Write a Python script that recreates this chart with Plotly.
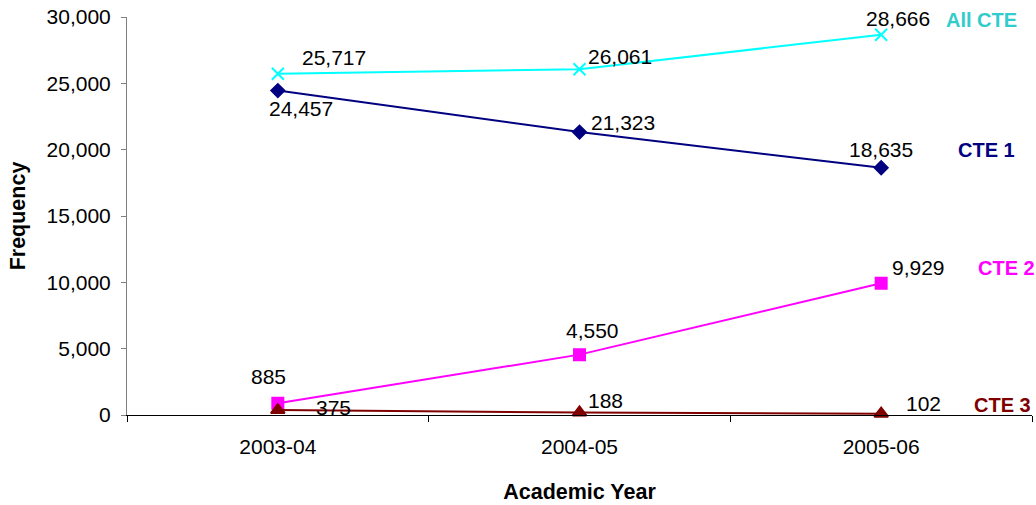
import plotly.graph_objects as go

years = ["2003-04", "2004-05", "2005-06"]
all_cte = [25717, 26061, 28666]
cte1 = [24457, 21323, 18635]
cte2 = [885, 4550, 9929]
cte3 = [375, 188, 102]

series = [
    # name, values, line colour, name colour, marker symbol, marker size
    ("All CTE", all_cte, "#00FFFF", "#33CCCC", "x-thin", 12),
    ("CTE 1", cte1, "#000080", "#000080", "diamond", 10),
    ("CTE 2", cte2, "#FF00FF", "#FF00FF", "square", 11),
    ("CTE 3", cte3, "#800000", "#800000", "triangle-up", 12),
]

# pixel offsets (dx, dy up) of each value label from its point
label_offsets = {
    "All CTE": [(56, 16), (40, 13), (17, 16)],
    "CTE 1": [(23, -18), (43, 10), (0, 18)],
    "CTE 2": [(-9, 27), (13, 24), (37, 16)],
    "CTE 3": [(56, 3), (26, 12), (42, 10)],
}
# series name placed to the right of the last point (left edge dx, dy up)
name_offsets = {
    "All CTE": (63, 15),
    "CTE 1": (75, 18),
    "CTE 2": (95, 15),
    "CTE 3": (91, 9),
}

FONT = "Arial, 'Liberation Sans', sans-serif"

fig = go.Figure()
annotations = []
for name, vals, color, name_color, symbol, msize in series:
    fig.add_trace(go.Scatter(
        x=years, y=vals, mode="lines+markers", name=name,
        line=dict(color=color, width=2),
        marker=dict(symbol=symbol, size=msize, color=color,
                    line=dict(color=color, width=2)),
        cliponaxis=False,
    ))
    for i, (yr, v) in enumerate(zip(years, vals)):
        dx, dy = label_offsets[name][i]
        annotations.append(dict(
            x=i, y=v, xref="x", yref="y", text=f"{v:,}", showarrow=False,
            xshift=dx, yshift=dy, font=dict(family=FONT, size=21, color="black"),
        ))
    dx, dy = name_offsets[name]
    annotations.append(dict(
        x=len(years) - 1, y=vals[-1], xref="x", yref="y", text=f"<b>{name}</b>",
        showarrow=False, xanchor="left", xshift=dx, yshift=dy,
        font=dict(family=FONT, size=20, color=name_color),
    ))

fig.update_layout(
    width=1036, height=505,
    margin=dict(l=127, r=4, t=17, b=90),
    paper_bgcolor="white", plot_bgcolor="white",
    showlegend=False,
    font=dict(family=FONT, size=21, color="black"),
    annotations=annotations,
)
fig.update_xaxes(
    type="category", range=[-0.5, 2.5],
    tickson="boundaries", ticks="outside", ticklen=6, tickcolor="black",
    showline=True, linecolor="black", linewidth=1,
    showgrid=False, zeroline=False,
    tickfont=dict(size=21),
    ticklabelstandoff=13,
    title=dict(text="<b>Academic Year</b>", font=dict(size=21.5), standoff=26),
)
fig.update_yaxes(
    range=[0, 30000], dtick=5000, tickformat=",",
    ticks="outside", ticklen=5, tickcolor="#808080",
    showline=True, linecolor="#808080", linewidth=1,
    showgrid=False, zeroline=False,
    tickfont=dict(size=21),
    ticklabelstandoff=6,
    title=dict(text="<b>Frequency</b>", font=dict(size=21.5), standoff=15),
)

fig.write_html("out.html")
